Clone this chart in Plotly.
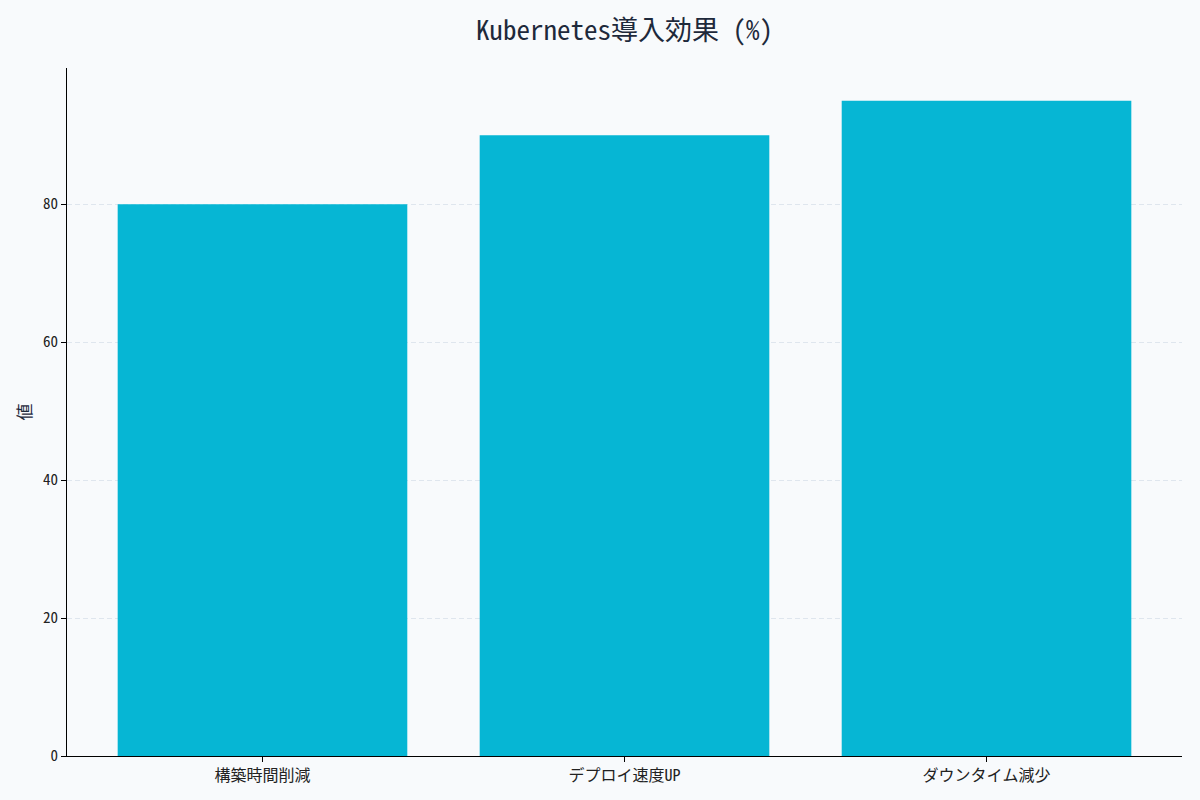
import plotly.graph_objects as go

# data
categories = ["構築時間削減", "デプロイ速度UP", "ダウンタイム減少"]
values = [80, 90, 95]
y_ticks = [0, 20, 40, 60, 80]

FONT = "Noto Sans Mono CJK JP, Noto Sans CJK JP, DejaVu Sans Mono, monospace"
BG = "#f8fafc"

fig = go.Figure(
    go.Bar(
        x=categories,
        y=values,
        marker_color="#06b6d4",
        marker_line_width=0,
        width=0.8,
    )
)

fig.update_layout(
    width=1200,
    height=800,
    paper_bgcolor=BG,
    plot_bgcolor=BG,
    font=dict(family=FONT, size=14, color="#000000"),
    title=dict(
        text="Kubernetes導入効果 (%)",
        xref="paper",
        x=0.5,
        xanchor="center",
        y=0.962,
        yanchor="middle",
        font=dict(family=FONT, size=27, color="#1e293b"),
    ),
    margin=dict(l=67, r=18, t=68, b=44),
    showlegend=False,
    bargap=0.2,
)

fig.update_xaxes(
    range=[-0.54, len(categories) - 0.46],
    showline=True,
    linecolor="#000000",
    linewidth=1.2,
    ticks="outside",
    ticklen=5,
    tickcolor="#000000",
    showgrid=False,
    tickfont=dict(size=16, color="#222222"),
)

fig.update_yaxes(
    range=[0, max(values) * 1.05],
    tickvals=y_ticks,
    showline=True,
    linecolor="#000000",
    linewidth=1.2,
    ticks="outside",
    ticklen=5,
    tickcolor="#000000",
    showgrid=True,
    gridcolor="rgba(203,213,225,0.55)",
    griddash="5px,3px",
    gridwidth=1,
    zeroline=False,
    tickfont=dict(size=15, color="#222222"),
    title=dict(text="値", font=dict(size=17, color="#1e293b"), standoff=6),
)

# remove the page margin so the figure sits at the window's top-left
fig.write_html(
    "out.html",
    config={"displayModeBar": False},
    post_script="document.body.style.margin='0';document.body.style.background='#f8fafc';",
)
